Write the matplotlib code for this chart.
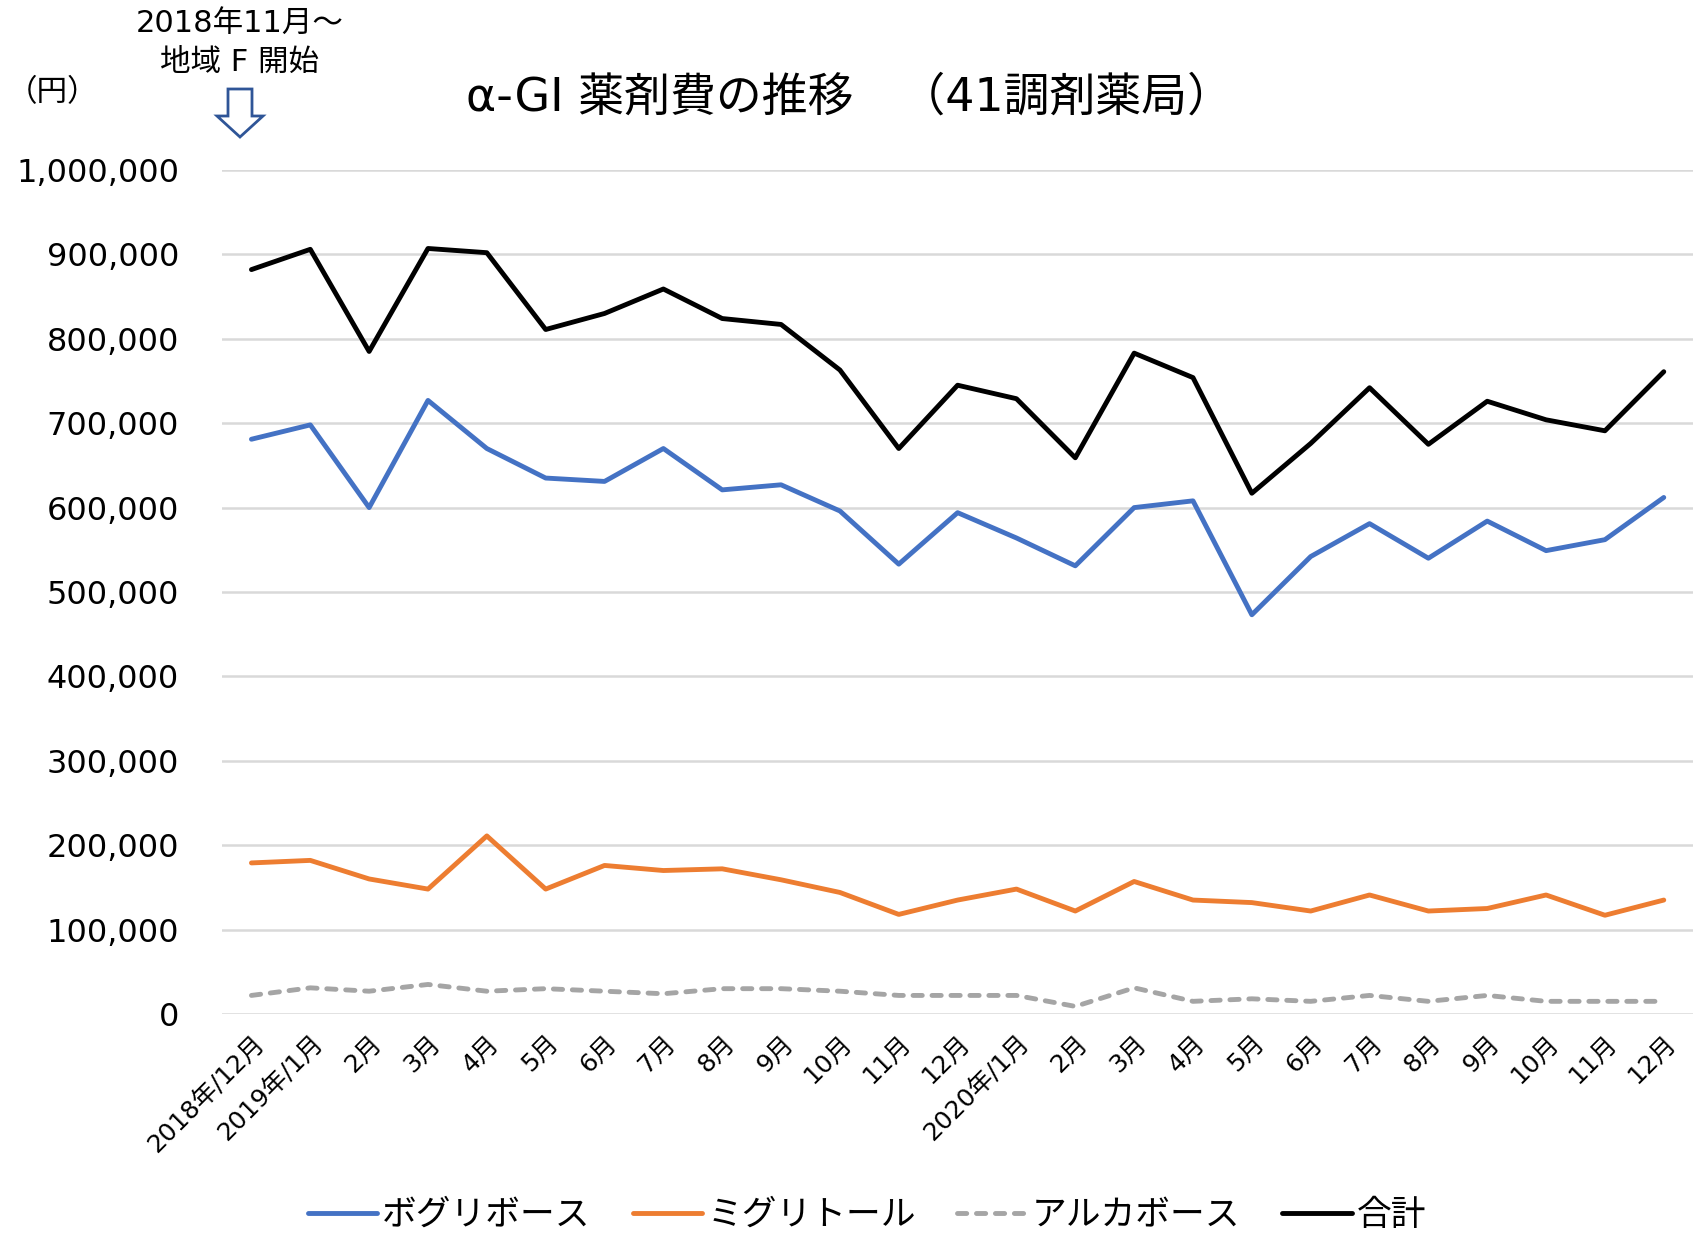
import matplotlib.pyplot as plt
from matplotlib.patches import Polygon
from matplotlib.ticker import FuncFormatter

plt.rcParams['font.family'] = ['DejaVu Sans', 'Noto Sans CJK JP']

# 月ラベル (2018/12 ～ 2020/12)
months = ['2018年/12月', '2019年/1月', '2月', '3月', '4月', '5月', '6月', '7月',
          '8月', '9月', '10月', '11月', '12月', '2020年/1月', '2月', '3月', '4月',
          '5月', '6月', '7月', '8月', '9月', '10月', '11月', '12月']

voglibose = [681000, 698000, 600000, 727000, 670000, 635000, 631000, 670000,
             621000, 627000, 596000, 533000, 594000, 564000, 531000, 600000,
             608000, 473000, 542000, 581000, 540000, 584000, 549000, 562000, 612000]
miglitol = [179000, 182000, 160000, 148000, 211000, 148000, 176000, 170000,
            172000, 159000, 144000, 118000, 135000, 148000, 122000, 157000,
            135000, 132000, 122000, 141000, 122000, 125000, 141000, 117000, 135000]
acarbose = [22000, 31000, 27000, 35000, 27000, 30000, 27000, 24000,
            30000, 30000, 27000, 22000, 22000, 22000, 9000, 31000,
            15000, 18000, 15000, 22000, 15000, 22000, 15000, 15000, 15000]
total = [882000, 906000, 785000, 907000, 902000, 811000, 830000, 859000,
         824000, 817000, 763000, 670000, 745000, 729000, 659000, 783000,
         754000, 617000, 676000, 742000, 675000, 726000, 704000, 691000, 761000]

fig = plt.figure(figsize=(17, 12.39), dpi=100)
ax = fig.add_axes([0.1306, 0.1816, 0.8654, 0.6812])

x = range(len(months))
lw = 3.5
ax.plot(x, voglibose, color='#4472C4', lw=lw, label='ボグリボース', solid_capstyle='round')
ax.plot(x, miglitol, color='#ED7D31', lw=lw, label='ミグリトール', solid_capstyle='round')
ax.plot(x, acarbose, color='#A5A5A5', lw=lw, ls=(0, (1.9, 2.0)), label='アルカボース',
        dash_capstyle='round')
ax.plot(x, total, color='black', lw=lw, label='合計', solid_capstyle='round')

ax.set_xlim(-0.5, len(months) - 0.5)
ax.set_ylim(0, 1000000)
ax.set_yticks(range(0, 1000001, 100000))
ax.yaxis.set_major_formatter(FuncFormatter(lambda v, p: f'{int(v):,}'))
ax.grid(axis='y', color='#D9D9D9', lw=1.8)
ax.set_axisbelow(True)
for s in ax.spines.values():
    s.set_visible(False)
ax.tick_params(axis='y', length=0, labelsize=23, pad=31)
ax.tick_params(axis='x', length=0, labelsize=18, pad=12)
ax.set_xticks(list(x))
ax.set_xticklabels(months, rotation=45, ha='right', rotation_mode='anchor')

fig.text(0.5, 0.921, 'α-GI 薬剤費の推移　（41調剤薬局）', ha='center', va='center',
         fontsize=33, family=['DejaVu Sans', 'Noto Sans CJK JP'])
fig.text(0.004, 0.925, '（円）', ha='left', va='center', fontsize=22,
         family=['Noto Sans CJK JP'])
fig.text(0.141, 0.981, '2018年11月～', ha='center', va='center', fontsize=22)
fig.text(0.141, 0.950, '地域 F 開始', ha='center', va='center', fontsize=22)

# 白抜きの下向き矢印
cx, top, neck, tip = 240, 89, 116, 137
arrow = [(cx - 12, top), (cx + 12, top), (cx + 12, neck), (cx + 23, neck), (cx, tip),
         (cx - 23, neck), (cx - 12, neck)]
arrow = [(px / 1700, 1 - py / 1239) for px, py in arrow]
fig.patches.append(Polygon(arrow, closed=True, transform=fig.transFigure,
                           facecolor='white', edgecolor='#2F5597', lw=2))

leg = fig.legend(loc='center', bbox_to_anchor=(0.51, 0.019), ncol=4, frameon=False,
                 handlelength=2.0, columnspacing=1.2, handletextpad=0.15,
                 prop={'family': 'Noto Sans CJK JP', 'size': 25})

fig.savefig('out.png', dpi=100)
